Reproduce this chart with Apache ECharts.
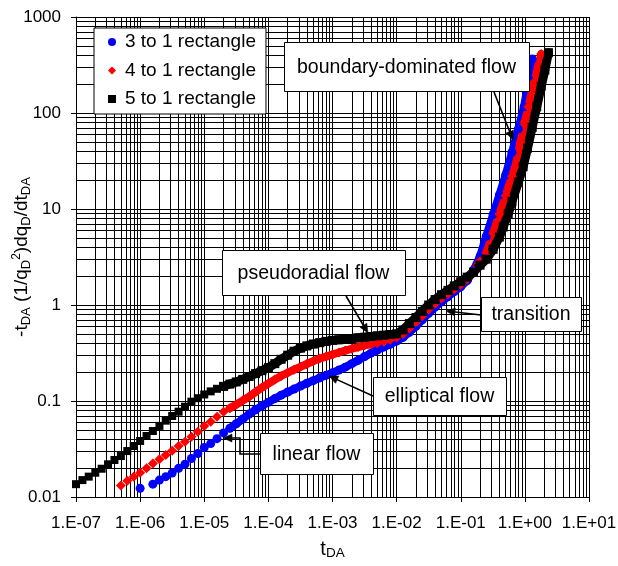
<!DOCTYPE html>
<html><head><meta charset="utf-8">
<script src="https://cdn.jsdelivr.net/npm/echarts@6/dist/echarts.min.js"></script>
<style>html,body{margin:0;padding:0;background:#fff;}#c{width:618px;height:566px;}</style>
</head><body><div id="c"></div>
<script>
const FONT = '"Liberation Sans", Arial, sans-serif';
const xTickLabels = ['1.E-07','1.E-06','1.E-05','1.E-04','1.E-03','1.E-02','1.E-01','1.E+00','1.E+01'];
const yTickLabels = ['0.01','0.1','1','10','100','1000'];
const xMin = 1e-7, xMax = 10, yMin = 0.01, yMax = 1000;
const seriesNames = ['3 to 1 rectangle','4 to 1 rectangle','5 to 1 rectangle'];

// 3 to 1 rectangle (blue)
const blueEarlyT = [1e-6,1.58e-6,2e-6,2.51e-6,3.16e-6,3.98e-6,5.01e-6,6.31e-6,7.94e-6,1e-5,1.26e-5,1.58e-5,2e-5];
const blueEarlyV = [0.0123,0.0136,0.0150,0.0163,0.0178,0.0199,0.0220,0.0252,0.0284,0.0328,0.0360,0.0405,0.0465];
const blueLateT = [2.51e-5,3.16e-5,3.98e-5,5.01e-5,6.31e-5,7.94e-5,1e-4,1.26e-4,1.58e-4,2e-4,2.51e-4,3.16e-4,3.98e-4,5.01e-4,6.31e-4,7.94e-4,1e-3,1.26e-3,1.58e-3,2e-3,2.51e-3,3.16e-3,3.98e-3,5.01e-3,6.31e-3,7.94e-3,1e-2,1.26e-2,1.58e-2,2e-2,2.51e-2,3.16e-2,3.98e-2,5.01e-2,6.31e-2,7.94e-2,0.1,0.126,0.158,0.2,0.25,0.32,0.4,0.5,0.63,0.79,0.97,1.15,1.3];
const blueLateV = [0.052,0.058,0.065,0.073,0.081,0.089,0.097,0.106,0.115,0.124,0.133,0.143,0.153,0.163,0.174,0.185,0.197,0.21,0.225,0.245,0.265,0.29,0.315,0.34,0.365,0.39,0.42,0.46,0.52,0.60,0.70,0.82,0.95,1.08,1.22,1.38,1.55,1.8,2.3,3.2,5.2,8.8,14,22.5,39,68,116,225,365];

// 4 to 1 rectangle (red)
const redEarlyT = [5.01e-7,6.31e-7,7.94e-7,1e-6,1.26e-6,1.58e-6,2e-6,2.51e-6,3.16e-6,3.98e-6,5.01e-6,6.31e-6,7.94e-6,1e-5,1.26e-5,1.58e-5,2e-5];
const redEarlyV = [0.0132,0.0148,0.0163,0.0179,0.0199,0.0224,0.0247,0.0274,0.0303,0.034,0.0377,0.0425,0.0479,0.055,0.0608,0.0686,0.0774];
const redLateT = [2.51e-5,3.16e-5,3.98e-5,5.01e-5,6.31e-5,7.94e-5,1e-4,1.26e-4,1.58e-4,2e-4,2.51e-4,3.16e-4,3.98e-4,5.01e-4,6.31e-4,7.94e-4,1e-3,1.26e-3,1.58e-3,2e-3,2.51e-3,3.16e-3,3.98e-3,5.01e-3,6.31e-3,7.94e-3,1e-2,1.26e-2,1.58e-2,2e-2,2.51e-2,3.16e-2,3.98e-2,5.01e-2,6.31e-2,7.94e-2,0.1,0.126,0.158,0.2,0.25,0.32,0.4,0.5,0.63,0.71,0.85,1.0,1.13,1.4,1.6,1.8];
const redLateV = [0.084,0.092,0.101,0.111,0.124,0.138,0.152,0.167,0.182,0.197,0.212,0.227,0.243,0.26,0.277,0.29,0.305,0.32,0.335,0.35,0.365,0.38,0.39,0.40,0.415,0.435,0.46,0.50,0.57,0.66,0.77,0.90,1.03,1.17,1.30,1.46,1.63,1.85,2.25,2.85,3.5,5.6,8.8,13.7,22,27.6,49,81,116,209,300,412];

// 5 to 1 rectangle (black)
const blackEarlyT = [1e-7,1.26e-7,1.58e-7,2e-7,2.51e-7,3.16e-7,3.98e-7,5.01e-7,6.31e-7,7.94e-7,1e-6,1.26e-6,1.58e-6,2e-6,2.51e-6,3.16e-6,3.98e-6,5.01e-6,6.31e-6,7.94e-6,1e-5,1.26e-5,1.58e-5];
const blackEarlyV = [0.0136,0.0150,0.0163,0.0179,0.0197,0.0219,0.0243,0.0267,0.0301,0.034,0.0383,0.0432,0.0487,0.055,0.0624,0.0698,0.0774,0.0873,0.0984,0.107,0.117,0.126,0.134];
const blackLateT = [2e-5,2.51e-5,3.16e-5,3.98e-5,5.01e-5,6.31e-5,7.94e-5,1e-4,1.26e-4,1.58e-4,2e-4,2.51e-4,3.16e-4,3.98e-4,5.01e-4,6.31e-4,7.94e-4,1e-3,1.26e-3,1.58e-3,2e-3,2.51e-3,3.16e-3,3.98e-3,5.01e-3,6.31e-3,7.94e-3,1e-2,1.26e-2,1.58e-2,2e-2,2.51e-2,3.16e-2,3.98e-2,5.01e-2,6.31e-2,7.94e-2,0.1,0.126,0.158,0.2,0.25,0.32,0.4,0.46,0.55,0.63,0.79,0.94,1.1,1.3,1.53,1.8,2.05,2.33];
const blackLateV = [0.142,0.150,0.158,0.168,0.180,0.193,0.207,0.223,0.245,0.272,0.30,0.33,0.355,0.375,0.392,0.405,0.418,0.428,0.434,0.44,0.447,0.455,0.462,0.47,0.477,0.485,0.492,0.50,0.55,0.64,0.74,0.86,1.0,1.14,1.28,1.42,1.58,1.75,1.95,2.2,2.6,3.0,3.8,5.1,6.5,8.9,12,19,27.6,43,71,116,190,280,425];

const zip = (a, b) => a.map((v, i) => [v, b[i]]);

// minor gridline positions (2..9 in each decade)
const xMinor = [], yMinor = [];
for (let e = -7; e < 1; e++) for (let m = 2; m <= 9; m++) xMinor.push({xAxis: m * Math.pow(10, e)});
for (let e = -2; e < 3; e++) for (let m = 2; m <= 9; m++) yMinor.push({yAxis: m * Math.pow(10, e)});

const chart = echarts.init(document.getElementById('c'), null, {renderer: 'canvas'});

function scatterSeries(name, data, color, symbol, size) {
  return {type: 'scatter', name, data, symbol, symbolSize: size, z: 10,
    itemStyle: {color, opacity: 1}, silent: true, animation: false};
}
function lineSeries(name, data, color, symbol, size, width) {
  return {type: 'line', name, data, symbol, symbolSize: size, showSymbol: true, z: 10,
    itemStyle: {color, opacity: 1, borderWidth: 0}, lineStyle: {color, width, cap: 'round', join: 'round'},
    silent: true, animation: false, smooth: false};
}

function labelBox(x, y, w, h, text) {
  return {type: 'group', z: 30, children: [
    {type: 'rect', z: 30, shape: {x: x + 0.5, y: y + 0.5, width: w, height: h},
      style: {fill: '#fff', stroke: '#000', lineWidth: 1}},
    {type: 'text', z: 31, style: {text, x: x + w / 2, y: y + h / 2 + 1, font: '19.5px ' + FONT,
      fill: '#000', align: 'center', verticalAlign: 'middle', textAlign: 'center', textVerticalAlign: 'middle'}}
  ]};
}
function arrow(points) {
  const tip = points[points.length - 1], from = points[points.length - 2];
  const dx = tip[0] - from[0], dy = tip[1] - from[1];
  const L = Math.hypot(dx, dy), ux = dx / L, uy = dy / L;
  const len = 9, hw = 4;
  const bx = tip[0] - ux * len, by = tip[1] - uy * len;
  const shaft = points.slice(0, -1).concat([[bx + ux * 2, by + uy * 2]]);
  return [
    {type: 'polyline', z: 30, shape: {points: shaft}, style: {stroke: '#000', lineWidth: 1.6, fill: null}},
    {type: 'polygon', z: 30, shape: {points: [tip, [bx - uy * hw, by + ux * hw], [bx + uy * hw, by - ux * hw]]},
      style: {fill: '#000', stroke: '#000', lineWidth: 0.5}}
  ];
}

const axisCommon = {
  type: 'log', logBase: 10, splitNumber: 10, nameMoveOverlap: false,
  axisLine: {show: true, onZero: false, lineStyle: {color: '#000', width: 1}},
  axisTick: {show: true, inside: false, length: 5, lineStyle: {color: '#000', width: 1}},
  splitLine: {show: true, lineStyle: {color: '#000', width: 1}},
  minorTick: {show: false}, minorSplitLine: {show: false}
};

const option = {
  backgroundColor: '#fff',
  animation: false,
  textStyle: {fontFamily: FONT},
  grid: {left: 76, right: 29, top: 17, bottom: 69, containLabel: false, outerBoundsMode: 'none', show: false},
  legend: {
    orient: 'vertical', left: 94, top: 28,
    padding: [4, 10, 5, 14], itemGap: 8.5, itemWidth: 8, itemHeight: 8,
    backgroundColor: '#fff', borderColor: '#000', borderWidth: 1, borderRadius: 0,
    selectedMode: false, z: 20,
    textStyle: {fontFamily: FONT, fontSize: 19, color: '#000', lineHeight: 20, padding: [0, 0, 0, 4]},
    data: [
      {name: seriesNames[0], icon: 'circle', itemStyle: {color: '#0000ff'}},
      {name: seriesNames[1], icon: 'diamond', itemStyle: {color: '#ff0000'}},
      {name: seriesNames[2], icon: 'rect', itemStyle: {color: '#000000'}}
    ]
  },
  xAxis: Object.assign({}, axisCommon, {
    min: xMin, max: xMax,
    name: 't{s|DA}', nameLocation: 'middle', nameGap: 41,
    nameTextStyle: {fontFamily: FONT, fontSize: 20, color: '#000', lineHeight: 22,
      rich: {s: {fontFamily: FONT, fontSize: 13.5, color: '#000', lineHeight: 22, verticalAlign: 'bottom'}}},
    axisLabel: {show: true, margin: 18, color: '#000', fontFamily: FONT, fontSize: 17,
      showMinLabel: true, showMaxLabel: true, hideOverlap: false,
      formatter: v => xTickLabels[Math.round(Math.log10(v) - Math.log10(xMin))]}
  }),
  yAxis: Object.assign({}, axisCommon, {
    min: yMin, max: yMax,
    name: '-t{s|DA} (1/q{s|D}{p|2})dq{s|D}/dt{s|DA}', nameLocation: 'middle', nameGap: 43, nameRotate: 90,
    nameTextStyle: {fontFamily: FONT, fontSize: 19, color: '#000', lineHeight: 22,
      rich: {
        s: {fontFamily: FONT, fontSize: 13, color: '#000', lineHeight: 22, verticalAlign: 'bottom'},
        p: {fontFamily: FONT, fontSize: 12, color: '#000', lineHeight: 22, verticalAlign: 'top'}
      }},
    axisLabel: {show: true, margin: 15, color: '#000', fontFamily: FONT, fontSize: 17,
      showMinLabel: true, showMaxLabel: true, hideOverlap: false,
      formatter: v => yTickLabels[Math.round(Math.log10(v) - Math.log10(yMin))]}
  }),
  series: [
    {type: 'line', name: 'minor-grid', data: [], z: 1, silent: true, animation: false,
      markLine: {z: 1, silent: true, animation: false, symbol: ['none', 'none'], precision: 10,
        label: {show: false}, emphasis: {disabled: true},
        lineStyle: {color: '#000', width: 1, type: 'solid', opacity: 1},
        data: xMinor.concat(yMinor)}},
    scatterSeries(seriesNames[0], zip(blueEarlyT, blueEarlyV), '#0000ff', 'circle', 9),
    lineSeries('blue-dense', zip(blueLateT, blueLateV), '#0000ff', 'circle', 9, 8),
    scatterSeries(seriesNames[1], zip(redEarlyT, redEarlyV), '#ff0000', 'diamond', 10),
    lineSeries('red-dense', zip(redLateT, redLateV), '#ff0000', 'diamond', 10, 8),
    scatterSeries(seriesNames[2], zip(blackEarlyT, blackEarlyV), '#000000', 'rect', 8),
    lineSeries('black-dense', zip(blackLateT, blackLateV), '#000000', 'rect', 9, 9)
  ],
  graphic: [
    labelBox(284, 42, 245, 49, 'boundary-dominated flow'),
    ...arrow([[494, 92], [513, 140]]),
    labelBox(222, 250, 183, 45, 'pseudoradial flow'),
    ...arrow([[346, 296], [368, 333]]),
    labelBox(481, 297, 100, 34, 'transition'),
    ...arrow([[481, 315], [446, 311]]),
    labelBox(373, 377, 133, 38, 'elliptical flow'),
    ...arrow([[373, 396], [329, 376]]),
    labelBox(260, 433, 113, 41, 'linear flow'),
    ...arrow([[260, 454], [240, 454], [240, 438], [223, 438]])
  ]
};
chart.setOption(option);
</script></body></html>
